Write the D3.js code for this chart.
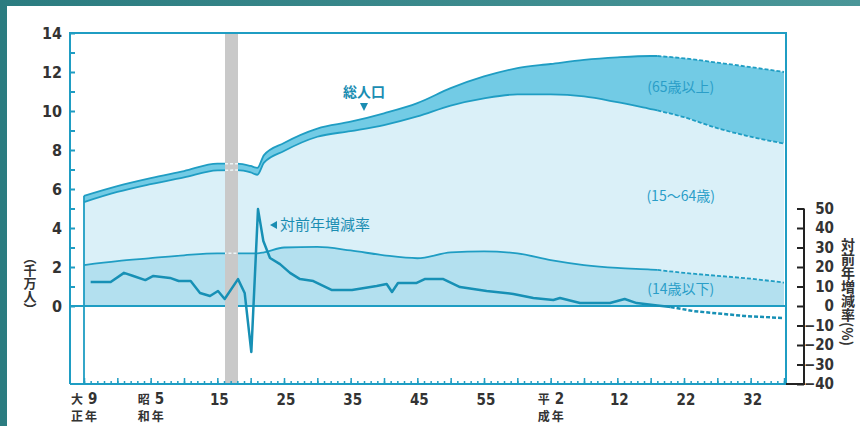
<!DOCTYPE html>
<html>
<head>
<meta charset="utf-8">
<script src="https://cdn.jsdelivr.net/npm/d3@7"></script>
<style>
  body { margin: 0; background: #fff; }
  svg { display: block; }
</style>
</head>
<body>
<div id="chart"></div>
<script>
// Population by age group, cumulative, in units of 10 million people.
const years   = [1920, 1925, 1930, 1935, 1940, 1943, 1945, 1946, 1947, 1950, 1955, 1960, 1965, 1970, 1975, 1980, 1985, 1990, 1995, 2000, 2005, 2006, 2010, 2015, 2020, 2025];
const total   = [5.65, 6.15, 6.56, 6.92, 7.30, 7.30, 7.18, 7.08, 7.74, 8.36, 9.10, 9.45, 9.88, 10.40, 11.17, 11.77, 12.20, 12.41, 12.62, 12.75, 12.82, 12.82, 12.70, 12.48, 12.25, 12.00];
const under65 = [5.33, 5.85, 6.25, 6.60, 6.95, 6.97, 6.85, 6.73, 7.35, 7.95, 8.68, 8.97, 9.28, 9.72, 10.28, 10.65, 10.85, 10.85, 10.75, 10.45, 10.10, 10.03, 9.68, 9.12, 8.68, 8.33];
const under15 = [2.10, 2.30, 2.45, 2.60, 2.70, 2.70, 2.70, 2.70, 2.75, 3.00, 3.03, 2.85, 2.60, 2.45, 2.75, 2.80, 2.70, 2.35, 2.10, 1.95, 1.87, 1.85, 1.70, 1.55, 1.40, 1.20];

// Year-on-year change rate (right axis).
const rateYears  = [1921, 1924, 1926, 1927.4, 1929.2, 1930.4, 1932.9, 1934.2, 1936, 1937.4, 1938.9, 1940.1, 1941.1, 1943.1, 1944.1, 1945.1, 1946.1, 1946.9, 1947.9, 1949.4, 1950.9, 1952.4, 1954.4, 1957.2, 1960.2, 1963.9, 1965.4, 1966.2, 1967.1, 1969.9, 1971.1, 1973.9, 1976.4, 1980.4, 1984.4, 1987.4, 1990.4, 1991.4, 1994.4, 1998.9, 2001.1, 2002.9, 2006, 2008, 2011.4, 2019, 2025];
const rateValues = [12.3, 12.3, 17, 15.4, 13.3, 15.4, 14.4, 12.8, 12.8, 6.7, 5.1, 7.7, 3.6, 13.8, 6.7, -23.6, 49.7, 33.3, 24.6, 21.5, 17, 13.8, 12.8, 8.2, 8.2, 10.3, 11.3, 7.2, 11.8, 11.8, 13.8, 13.8, 9.7, 7.7, 6.2, 4.1, 3.1, 4.1, 1.5, 1.5, 3.6, 1.5, 0.3, -0.5, -2.6, -5.1, -6.2];

const projectionFrom = 2006;
const warBand = [1941.15, 1943.1];

const leftTicks  = d3.range(0, 15);
const rightTicks = d3.range(-40, 51, 10);
const xLabelYears = [1920, 1930, 1940, 1950, 1960, 1970, 1980, 1990, 2000, 2010, 2020];
const xLabelNums  = ["9", "5", "15", "25", "35", "45", "55", "2", "12", "22", "32"];
const xLabelEras  = { 1920: ["大", "正"], 1930: ["昭", "和"], 1990: ["平", "成"] };

// Chart dimensions.
const width = 860, height = 426;
const frameLeft = 70, frameRight = 786;
const teal = "#1f9dc3";
const numFont = "'Liberation Sans Narrow', 'DejaVu Sans Condensed', sans-serif";
const cjkFont = "'Noto Sans CJK JP', sans-serif";

const x = d3.scaleLinear().domain([1920, 2025]).range([84, 784]);
const y = d3.scaleLinear().domain([0, 14]).range([306, 33]);
const yRate = d3.scaleLinear().domain([-40, 50]).range([y(-4), y(5)]);
const frameTop = y(14), frameBottom = y(-4);

const svg = d3.select("#chart").append("svg")
    .attr("width", width)
    .attr("height", height)
    .attr("viewBox", [0, 0, width, height]);

// Teal slide background with a white panel.
const grad = svg.append("defs").append("linearGradient").attr("id", "bg").attr("x1", 0).attr("y1", 0).attr("x2", 1).attr("y2", 0);
grad.append("stop").attr("offset", 0).attr("stop-color", "#2b7c80");
grad.append("stop").attr("offset", 1).attr("stop-color", "#4a9698");
svg.append("rect").attr("width", width).attr("height", height).attr("fill", "url(#bg)");
svg.append("rect").attr("x", 7).attr("y", 6).attr("width", width - 7).attr("height", height - 6).attr("fill", "#fff");

const pop = years.map((yr, i) => ({ year: yr, total: total[i], u65: under65[i], u15: under15[i] }));
const rate = rateYears.map((yr, i) => ({ year: yr, value: rateValues[i] }));

const curve = d3.curveMonotoneX;

// Bands.
svg.append("path").datum(pop)
    .attr("fill", "#daf0f8")
    .attr("d", d3.area().curve(curve).x(d => x(d.year)).y0(d => y(d.u15)).y1(d => y(d.u65)));
svg.append("path").datum(pop)
    .attr("fill", "#72cbe5")
    .attr("d", d3.area().curve(curve).x(d => x(d.year)).y0(d => y(d.u65)).y1(d => y(d.total)));
svg.append("path").datum(pop)
    .attr("fill", "#b3e0ef")
    .attr("d", d3.area().curve(curve).x(d => x(d.year)).y0(y(0)).y1(d => y(d.u15)));

// Boundary lines, solid up to the projection year, dashed after.
const actual = pop.filter(d => d.year <= projectionFrom);
const projected = pop.filter(d => d.year >= projectionFrom);
const keys = ["total", "u65", "u15"];
keys.forEach(k => {
    const line = d3.line().curve(curve).x(d => x(d.year)).y(d => y(d[k]));
    svg.append("path").datum(actual)
        .attr("fill", "none").attr("stroke", teal).attr("stroke-width", 1.8)
        .attr("d", line);
    svg.append("path").datum(projected)
        .attr("fill", "none").attr("stroke", teal).attr("stroke-width", 1.8)
        .attr("stroke-dasharray", "4,2")
        .attr("d", line);
});

// Left edge of the bands.
svg.append("line")
    .attr("x1", x(1920)).attr("x2", x(1920))
    .attr("y1", y(total[0])).attr("y2", frameBottom)
    .attr("stroke", teal).attr("stroke-width", 1.8);

// Zero line.
svg.append("line")
    .attr("x1", frameLeft).attr("x2", frameRight)
    .attr("y1", y(0)).attr("y2", y(0))
    .attr("stroke", teal).attr("stroke-width", 2);

// War-time gap band.
svg.append("rect")
    .attr("x", x(warBand[0])).attr("width", x(warBand[1]) - x(warBand[0]))
    .attr("y", frameTop).attr("height", frameBottom - frameTop)
    .attr("fill", "#c9c9c9");
svg.append("clipPath").attr("id", "war")
    .append("rect")
    .attr("x", x(warBand[0])).attr("width", x(warBand[1]) - x(warBand[0]))
    .attr("y", frameTop).attr("height", frameBottom - frameTop);
keys.forEach(k => {
    svg.append("path").datum(pop)
        .attr("clip-path", "url(#war)")
        .attr("fill", "none").attr("stroke", "#eef6f8").attr("stroke-width", 1.5)
        .attr("stroke-dasharray", "3,2")
        .attr("d", d3.line().curve(curve).x(d => x(d.year)).y(d => y(d[k])));
});

// Change-rate line.
const rateLine = d3.line().x(d => x(d.year)).y(d => yRate(d.value));
svg.append("path").datum(rate.filter(d => d.year <= projectionFrom + 2))
    .attr("fill", "none").attr("stroke", "#1790b5").attr("stroke-width", 2.5)
    .attr("stroke-linejoin", "round")
    .attr("d", rateLine);
svg.append("path").datum(rate.filter(d => d.year >= projectionFrom + 2))
    .attr("fill", "none").attr("stroke", "#1790b5").attr("stroke-width", 2.5)
    .attr("stroke-dasharray", "4,2")
    .attr("d", rateLine);

// Frame.
svg.append("path")
    .attr("fill", "none").attr("stroke", teal).attr("stroke-width", 2)
    .attr("d", `M${frameLeft},${frameBottom}V${frameTop}H${frameRight}V${frameBottom}H${frameLeft}`);

// Left axis.
const leftAxis = svg.append("g")
    .attr("transform", `translate(${frameLeft},0)`)
    .call(d3.axisLeft(y).tickValues(leftTicks).tickSizeInner(-5).tickSizeOuter(0).tickPadding(8)
        .tickFormat(d => d % 2 ? "" : d));
leftAxis.select(".domain").remove();
leftAxis.selectAll("line").attr("stroke", teal).attr("stroke-width", 2);
leftAxis.selectAll("text")
    .attr("font-family", numFont).attr("font-size", 16).attr("font-weight", "bold").attr("fill", "#333");

svg.append("text")
    .attr("x", 30).attr("y", 283)
    .attr("style", "writing-mode: vertical-rl")
    .attr("text-anchor", "middle")
    .attr("font-family", cjkFont).attr("font-size", 13).attr("font-weight", "bold").attr("fill", "#333")
    .text("（千万人）");

// Bottom axis ticks.
const minor = svg.append("g")
    .attr("transform", `translate(0,${frameBottom})`)
    .call(d3.axisTop(x).tickValues(d3.range(1920, 2026)).tickSize(3).tickFormat(""));
const major = svg.append("g")
    .attr("transform", `translate(0,${frameBottom})`)
    .call(d3.axisTop(x).tickValues(d3.range(1920, 2026, 5)).tickSize(6).tickFormat(""));
[minor, major].forEach(g => {
    g.select(".domain").remove();
    g.selectAll("line").attr("stroke", teal).attr("stroke-width", 1.5);
});

// Bottom labels.
const xl = svg.append("g").attr("fill", "#333");
xLabelYears.forEach((yr, i) => {
    const era = xLabelEras[yr];
    if (era) {
        xl.append("text").attr("x", x(yr) - 1).attr("y", 404).attr("text-anchor", "end")
            .attr("font-family", cjkFont).attr("font-size", 12).attr("font-weight", "bold").text(era[0]);
        xl.append("text").attr("x", x(yr) + 4).attr("y", 404)
            .attr("font-family", numFont).attr("font-size", 15).attr("font-weight", "bold").text(xLabelNums[i]);
        xl.append("text").attr("x", x(yr) - 1).attr("y", 421).attr("text-anchor", "end")
            .attr("font-family", cjkFont).attr("font-size", 12).attr("font-weight", "bold").text(era[1]);
        xl.append("text").attr("x", x(yr) + 1).attr("y", 421)
            .attr("font-family", cjkFont).attr("font-size", 12).attr("font-weight", "bold").text("年");
    } else {
        xl.append("text").attr("x", x(yr) + 2).attr("y", 405).attr("text-anchor", "middle")
            .attr("font-family", numFont).attr("font-size", 15).attr("font-weight", "bold").text(xLabelNums[i]);
    }
});

// Right axis.
const axisX = 804;
const rightAxis = svg.append("g")
    .attr("transform", `translate(${axisX},0)`)
    .call(d3.axisRight(yRate).tickValues(rightTicks).tickSizeInner(-7).tickSizeOuter(0));
rightAxis.select(".domain").remove();
rightAxis.selectAll("line").attr("stroke", "#222").attr("stroke-width", 2);
rightAxis.selectAll("text")
    .attr("x", 30).attr("text-anchor", "end")
    .attr("font-family", numFont).attr("font-size", 15).attr("font-weight", "bold").attr("fill", "#333")
    .text(d => d < 0 ? "\u2212" + Math.abs(d) : d);
svg.append("path")
    .attr("fill", "none").attr("stroke", "#222").attr("stroke-width", 2)
    .attr("d", `M${axisX},${yRate(50)}V${frameBottom}H${frameRight}`);

svg.append("text")
    .attr("x", 848).attr("y", 292)
    .attr("style", "writing-mode: vertical-rl")
    .attr("text-anchor", "middle")
    .attr("font-family", cjkFont).attr("font-size", 14).attr("font-weight", "bold").attr("fill", "#333")
    .text("対前年増減率(%)");

// Annotations.
const noteColor = "#1a8db2";
const noteYear = 1962;
svg.append("text")
    .attr("x", x(noteYear)).attr("y", 97).attr("text-anchor", "middle")
    .attr("font-family", cjkFont).attr("font-size", 14).attr("font-weight", "bold").attr("fill", noteColor)
    .text("総人口");
svg.append("path")
    .attr("fill", noteColor)
    .attr("d", `M${x(noteYear) - 4},103H${x(noteYear) + 4}L${x(noteYear)},111Z`);

svg.append("path")
    .attr("fill", noteColor)
    .attr("d", `M270,225L277,221V229Z`);
svg.append("text")
    .attr("x", 280).attr("y", 230)
    .attr("font-family", cjkFont).attr("font-size", 15).attr("fill", noteColor)
    .text("対前年増減率");

const bandLabels = svg.append("g")
    .attr("font-family", cjkFont).attr("font-size", 14).attr("fill", "#2a9ec8").attr("text-anchor", "middle");
bandLabels.append("text").attr("x", x(2009.5)).attr("y", y(11.0)).text("(65歳以上)");
bandLabels.append("text").attr("x", x(2009.5)).attr("y", y(5.4)).text("(15〜64歳)");
bandLabels.append("text").attr("x", x(2009.5)).attr("y", y(0.6)).text("(14歳以下)");
</script>
</body>
</html>
